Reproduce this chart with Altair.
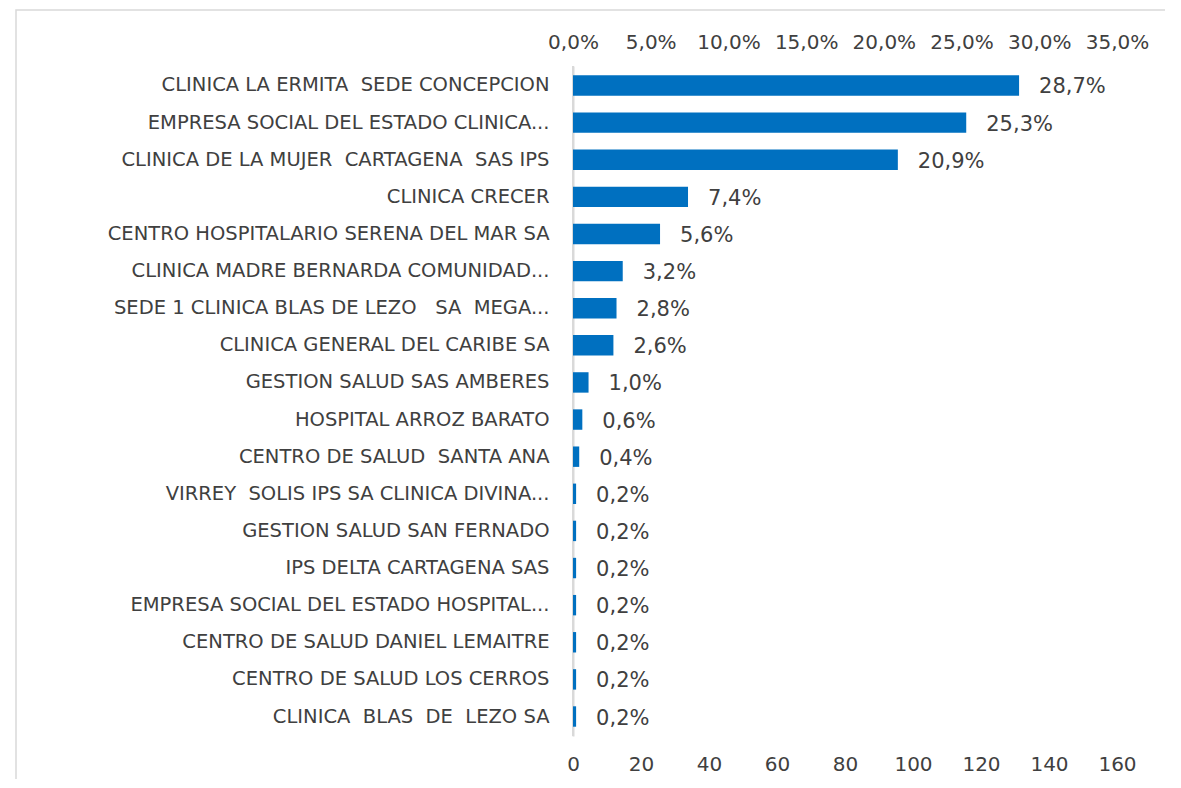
import altair as alt
import pandas as pd

categories = [
    "CLINICA LA ERMITA  SEDE CONCEPCION",
    "EMPRESA SOCIAL DEL ESTADO CLINICA...",
    "CLINICA DE LA MUJER  CARTAGENA  SAS IPS",
    "CLINICA CRECER",
    "CENTRO HOSPITALARIO SERENA DEL MAR SA",
    "CLINICA MADRE BERNARDA COMUNIDAD...",
    "SEDE 1 CLINICA BLAS DE LEZO   SA  MEGA...",
    "CLINICA GENERAL DEL CARIBE SA",
    "GESTION SALUD SAS AMBERES",
    "HOSPITAL ARROZ BARATO",
    "CENTRO DE SALUD  SANTA ANA",
    "VIRREY  SOLIS IPS SA CLINICA DIVINA...",
    "GESTION SALUD SAN FERNADO",
    "IPS DELTA CARTAGENA SAS",
    "EMPRESA SOCIAL DEL ESTADO HOSPITAL...",
    "CENTRO DE SALUD DANIEL LEMAITRE",
    "CENTRO DE SALUD LOS CERROS",
    "CLINICA  BLAS  DE  LEZO SA",
]
percentages = [28.7, 25.3, 20.9, 7.4, 5.6, 3.2, 2.8, 2.6, 1.0, 0.6, 0.4,
               0.2, 0.2, 0.2, 0.2, 0.2, 0.2, 0.2]
pct_ticks = [0, 5, 10, 15, 20, 25, 30, 35]
count_ticks = [0, 20, 40, 60, 80, 100, 120, 140, 160]

# keep repeated spaces visible in SVG text
shown = [c.replace("  ", " \u00a0") for c in categories]
df = pd.DataFrame({"cat": shown, "pct": percentages})

FONT = "DejaVu Sans"
TXT = "#404040"
BLUE = "#0070C0"

yenc = alt.Y("cat:N", sort=shown,
             scale=alt.Scale(paddingInner=0.45, paddingOuter=0.25),
             axis=alt.Axis(title=None, domain=True, domainColor="#D9D9D9", domainWidth=2,
                           ticks=False, labelPadding=24,
                           labelFontSize=19.5, labelColor=TXT, labelFont=FONT,
                           labelLimit=600))

frame = alt.Chart(df).mark_rect(fill=None, stroke="#D9D9D9", strokeWidth=1.5, clip=False).encode(
    x=alt.value(-557), x2=alt.value(700), y=alt.value(-56), y2=alt.value(800)
).transform_filter(alt.datum.pct == 28.7)

rule = alt.Chart(df).mark_rule(color="#D9D9D9", strokeWidth=2).encode(
    x=alt.X("z:Q", scale=alt.Scale(domain=[0, 160], nice=False),
            axis=alt.Axis(orient="bottom", title=None, values=count_ticks, domain=False,
                          ticks=False, grid=False, labelFontSize=20, labelColor=TXT,
                          labelFont=FONT, labelPadding=18, labelOverlap=False,
                          labelFlush=False))
).transform_calculate(z="0").transform_filter(alt.datum.pct == 28.7)

bars = alt.Chart(df).mark_bar(color=BLUE).encode(
    y=yenc,
    x=alt.X("pct:Q", scale=alt.Scale(domain=[0, 35], nice=False),
            axis=alt.Axis(orient="top", title=None, values=pct_ticks, domain=False,
                          ticks=False, grid=False, labelFontSize=20, labelColor=TXT,
                          labelFont=FONT, labelPadding=14, labelOverlap=False,
                          labelFlush=False,
                          labelExpr="replace(format(datum.value, '.1f'), '.', ',') + '%'")),
)

labels = alt.Chart(df).mark_text(align="left", baseline="middle", dx=20, dy=2,
                                 fontSize=21, color=TXT, font=FONT).encode(
    y=alt.Y("cat:N", sort=shown),
    x=alt.X("pct:Q"),
    text=alt.Text("lab:N"),
).transform_calculate(lab="replace(format(datum.pct, '.1f'), '.', ',') + '%'")

chart = alt.layer(frame, rule, bars + labels).resolve_scale(x="independent").properties(
    width=544, height=670,
    background="white",
    autosize=alt.AutoSizeParams(type="none"),
    padding={"left": 565, "top": 58, "right": 48, "bottom": 43},
).configure_view(strokeWidth=0)

chart.save("out.html", embed_options={"renderer": "svg", "actions": False})
